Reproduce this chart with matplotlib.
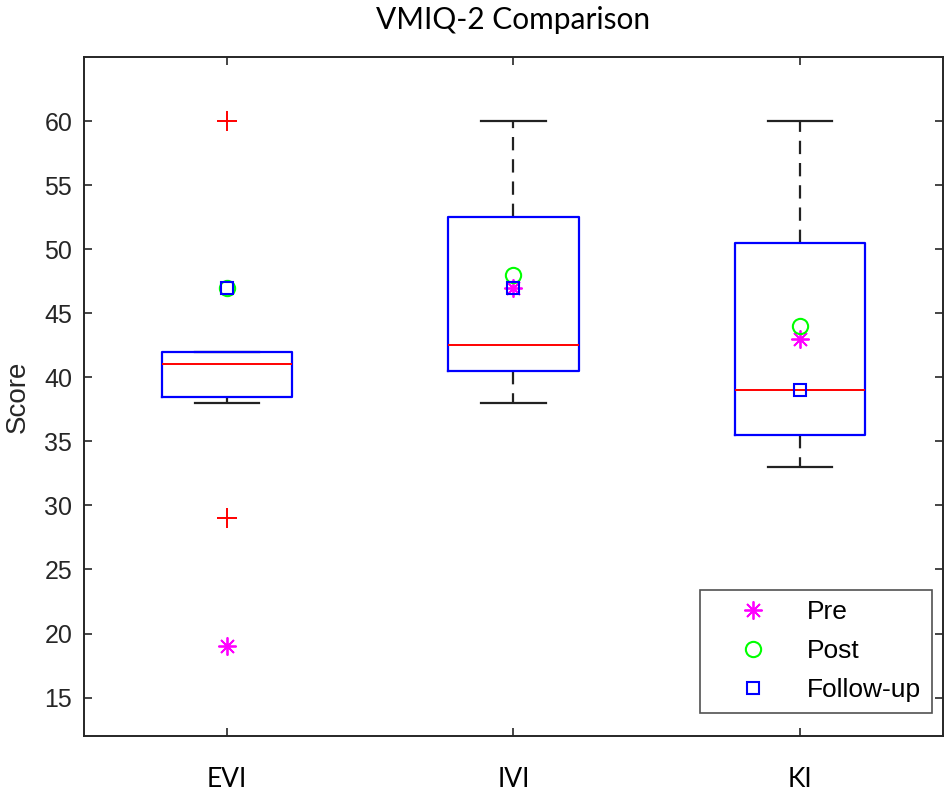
import matplotlib.pyplot as plt

# boxplot statistics
groups = ['EVI', 'IVI', 'KI']
q1 = [38.5, 40.5, 35.5]
med = [41, 42.5, 39]
q3 = [42, 52.5, 50.5]
whislo = [38, 38, 33]
whishi = [42, 60, 60]
fliers = [[60, 29], [], []]

# per-session scores
pre = [19, 47, 43]
post = [47, 48, 44]
follow_up = [47, 47, 39]

stats = []
for i, g in enumerate(groups):
    stats.append(dict(label=g, q1=q1[i], med=med[i], q3=q3[i],
                      whislo=whislo[i], whishi=whishi[i], fliers=fliers[i]))

fig = plt.figure(figsize=(9.5, 7.95), dpi=100)
ax = fig.add_axes([0.0884, 0.0742, 0.9042, 0.8541])

pos = [1, 2, 3]
ax.bxp(stats, positions=pos, widths=0.455, capwidths=0.225,
       boxprops=dict(color='#0000ff', linewidth=1.6, zorder=3),
       medianprops=dict(color='#ff0000', linewidth=1.4, zorder=3),
       whiskerprops=dict(color='#222222', linewidth=1.6, linestyle=(0, (6, 4)), zorder=2),
       capprops=dict(color='#222222', linewidth=1.6, zorder=2),
       flierprops=dict(marker='+', markeredgecolor='#ff0000', markersize=14,
                       markeredgewidth=1.4, linestyle='none'))

ax.plot(pos, pre, linestyle='none', marker=(8, 2, 0), color='#ff00ff',
        markersize=13, markeredgewidth=1.3, label='Pre', zorder=4)
ax.plot(pos, post, linestyle='none', marker='o', markerfacecolor='none',
        markeredgecolor='#00ff00', markersize=11, markeredgewidth=1.5, label='Post', zorder=4)
ax.plot(pos, follow_up, linestyle='none', marker='s', markerfacecolor='none',
        markeredgecolor='#0000ff', markersize=9, markeredgewidth=1.5, label='Follow-up', zorder=4)

ax.set_xlim(0.5, 3.5)
ax.set_ylim(12, 65)
ax.set_yticks(range(15, 61, 5))
ax.set_xticks(pos)
ax.set_xticklabels(groups, family='Lato', fontsize=19)
for t in ax.get_yticklabels():
    t.set_family('Liberation Sans')
    t.set_fontsize(18)
    t.set_color('#262626')
ax.tick_params(direction='in', length=6, width=1.2, color='#262626',
               top=True, right=True)
ax.tick_params(axis='y', pad=8.5)
ax.tick_params(axis='x', pad=22)
for s in ax.spines.values():
    s.set_color('#262626')
    s.set_linewidth(1.4)

ax.set_ylabel('Score', family='Liberation Sans', fontsize=20, labelpad=10, color='#262626')
ax.set_title('VMIQ-2 Comparison', family='Lato', fontsize=21.5, pad=20)

leg = ax.legend(loc='lower right', bbox_to_anchor=(0.987, 0.034),
                prop={'family': 'Liberation Sans', 'size': 19},
                frameon=True, fancybox=False, edgecolor='#262626',
                borderaxespad=0, handletextpad=0.45, labelspacing=0.57,
                borderpad=0.4, handlelength=3.2)
leg.get_frame().set_linewidth(1.2)

fig.savefig('out.png', dpi=100)
